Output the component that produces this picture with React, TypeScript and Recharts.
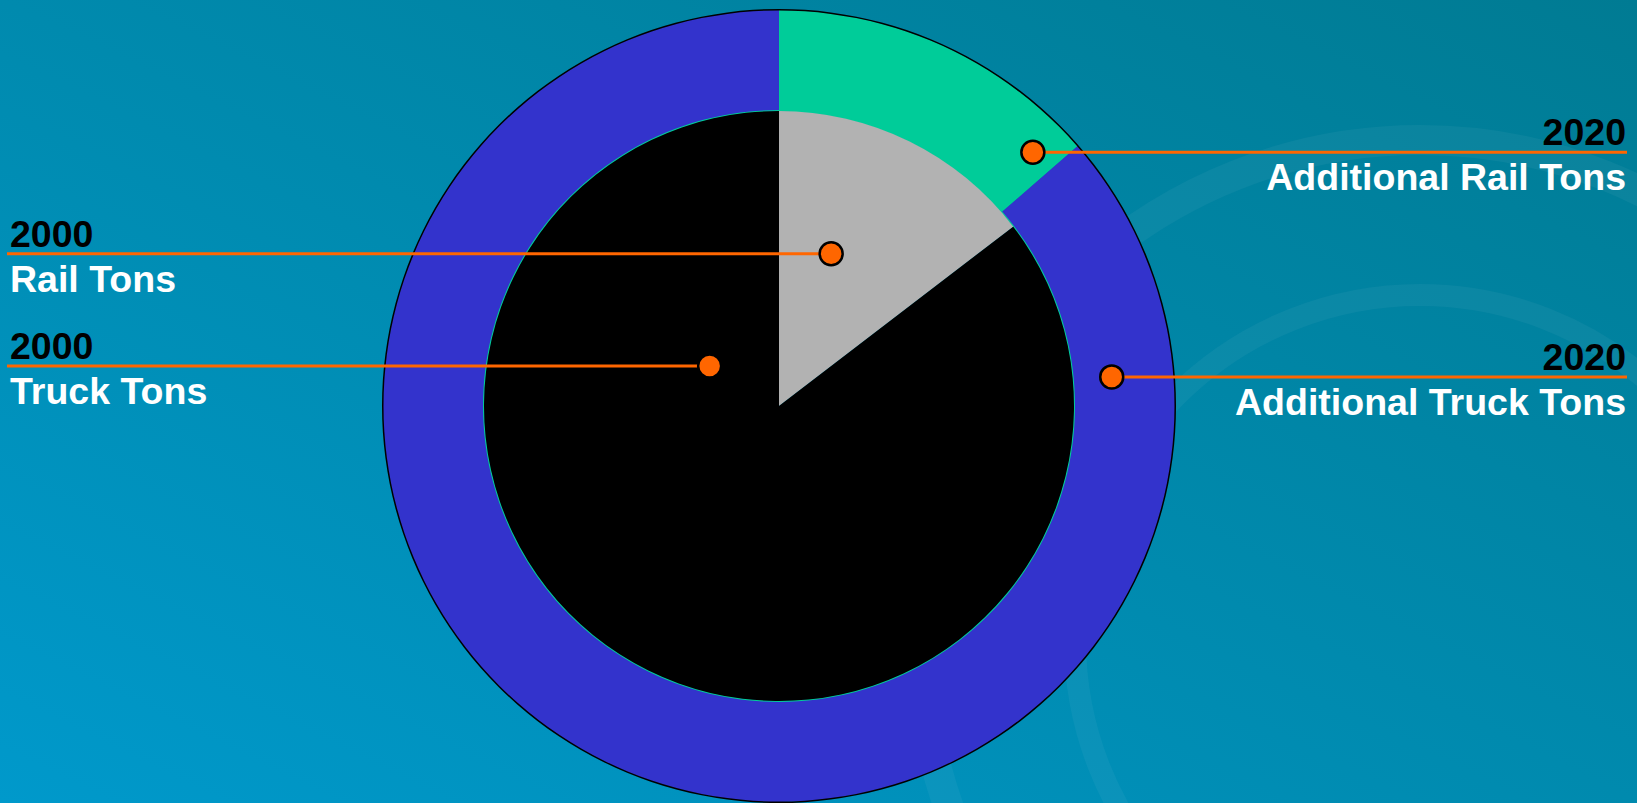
import React from "react";
import { PieChart, Pie, Cell } from "recharts";

// Shares of tonnage (percent)
const innerNames = ["Rail Tons", "Truck Tons"];
const innerYears = ["2000", "2000"];
const innerValues = [14.6, 85.4];

const outerNames = ["Additional Rail Tons", "Additional Truck Tons"];
const outerYears = ["2020", "2020"];
const outerValues = [13.6, 86.4];

// Callout dot placement: degrees clockwise from 12 o'clock, distance from centre
const innerDotAngle = [18.9, 299.9];
const innerDotRadius = [161, 80];
const outerDotAngle = [45, 85];
const outerDotRadius = [359, 334];

const INNER_COLORS = ["#B2B2B2", "#000000"];
const OUTER_COLORS = ["#00CC99", "#3333CC"];

const W = 1637;
const H = 803;
const CX = 779;
const CY = 406;
const FONT = "'Liberation Sans', Arial, Helvetica, sans-serif";

const innerData = innerNames.map((name, i) => ({ name, value: innerValues[i] }));
const outerData = outerNames.map((name, i) => ({ name, value: outerValues[i] }));
const ringData = [{ name: "ring", value: 1 }];

const makeCallout =
  (side: "left" | "right", years: string[], names: string[], angles: number[], radii: number[]) =>
  (props: any) => {
    const { cx, cy, index } = props;
    const a = (angles[index] * Math.PI) / 180;
    const mx = Number(cx) + radii[index] * Math.sin(a);
    const my = Number(cy) - radii[index] * Math.cos(a);
    const left = side === "left";
    const tx = left ? 10 : 1626;
    const anchor = left ? "start" : "end";
    return (
      <g key={`callout-${side}-${index}`}>
        <line
          x1={left ? 7 : mx}
          x2={left ? mx : 1627}
          y1={my}
          y2={my}
          stroke="#FF6600"
          strokeWidth={3}
        />
        <circle cx={mx} cy={my} r={11.5} fill="#FF6600" stroke="#000" strokeWidth={2.5} />
        <text x={tx} y={my - 7} textAnchor={anchor} fill="#000" fontFamily={FONT} fontWeight="bold" fontSize={37.5}>
          {years[index]}
        </text>
        <text x={tx} y={my + 38} textAnchor={anchor} fill="#fff" fontFamily={FONT} fontWeight="bold" fontSize={37.5}>
          {names[index]}
        </text>
      </g>
    );
  };

export default function App() {
  return (
    <div
      style={{
        position: "absolute",
        left: 0,
        top: 0,
        width: W,
        height: H,
        overflow: "hidden",
        background: "linear-gradient(to top right, #0099CB 0%, #008AAE 50%, #007B93 100%)",
      }}
    >
      {/* faint seal watermark in the background */}
      <svg width={W} height={H} style={{ position: "absolute", left: 0, top: 0 }}>
        <circle cx={1420} cy={640} r={500} fill="none" stroke="rgba(255,255,255,0.045)" strokeWidth={30} />
        <circle cx={1420} cy={640} r={345} fill="none" stroke="rgba(255,255,255,0.045)" strokeWidth={22} />
      </svg>
      <div style={{ position: "absolute", left: 0, top: 0 }}>
        <PieChart width={W} height={H} margin={{ top: 0, right: 0, bottom: 0, left: 0 }}>
          <Pie
            data={outerData}
            dataKey="value"
            nameKey="name"
            cx={CX}
            cy={CY}
            innerRadius={295}
            outerRadius={396}
            startAngle={90}
            endAngle={-270}
            stroke="none"
            isAnimationActive={false}
            labelLine={false}
            label={makeCallout("right", outerYears, outerNames, outerDotAngle, outerDotRadius)}
          >
            {outerData.map((d, i) => (
              <Cell key={d.name} fill={OUTER_COLORS[i]} />
            ))}
          </Pie>
          {/* outline of the outer ring */}
          <Pie
            data={ringData}
            dataKey="value"
            cx={CX}
            cy={CY}
            innerRadius={395.5}
            outerRadius={397}
            startAngle={90}
            endAngle={-270}
            fill="#000"
            stroke="none"
            isAnimationActive={false}
          />
          {/* thin teal edge around the inner pie */}
          <Pie
            data={ringData}
            dataKey="value"
            cx={CX}
            cy={CY}
            innerRadius={294.5}
            outerRadius={296}
            startAngle={90}
            endAngle={-270}
            fill="#00CC99"
            stroke="none"
            isAnimationActive={false}
          />
          <Pie
            data={innerData}
            dataKey="value"
            nameKey="name"
            cx={CX}
            cy={CY}
            innerRadius={0}
            outerRadius={295}
            startAngle={90}
            endAngle={-270}
            stroke="none"
            isAnimationActive={false}
            labelLine={false}
            label={makeCallout("left", innerYears, innerNames, innerDotAngle, innerDotRadius)}
          >
            {innerData.map((d, i) => (
              <Cell key={d.name} fill={INNER_COLORS[i]} />
            ))}
          </Pie>
        </PieChart>
      </div>
    </div>
  );
}
